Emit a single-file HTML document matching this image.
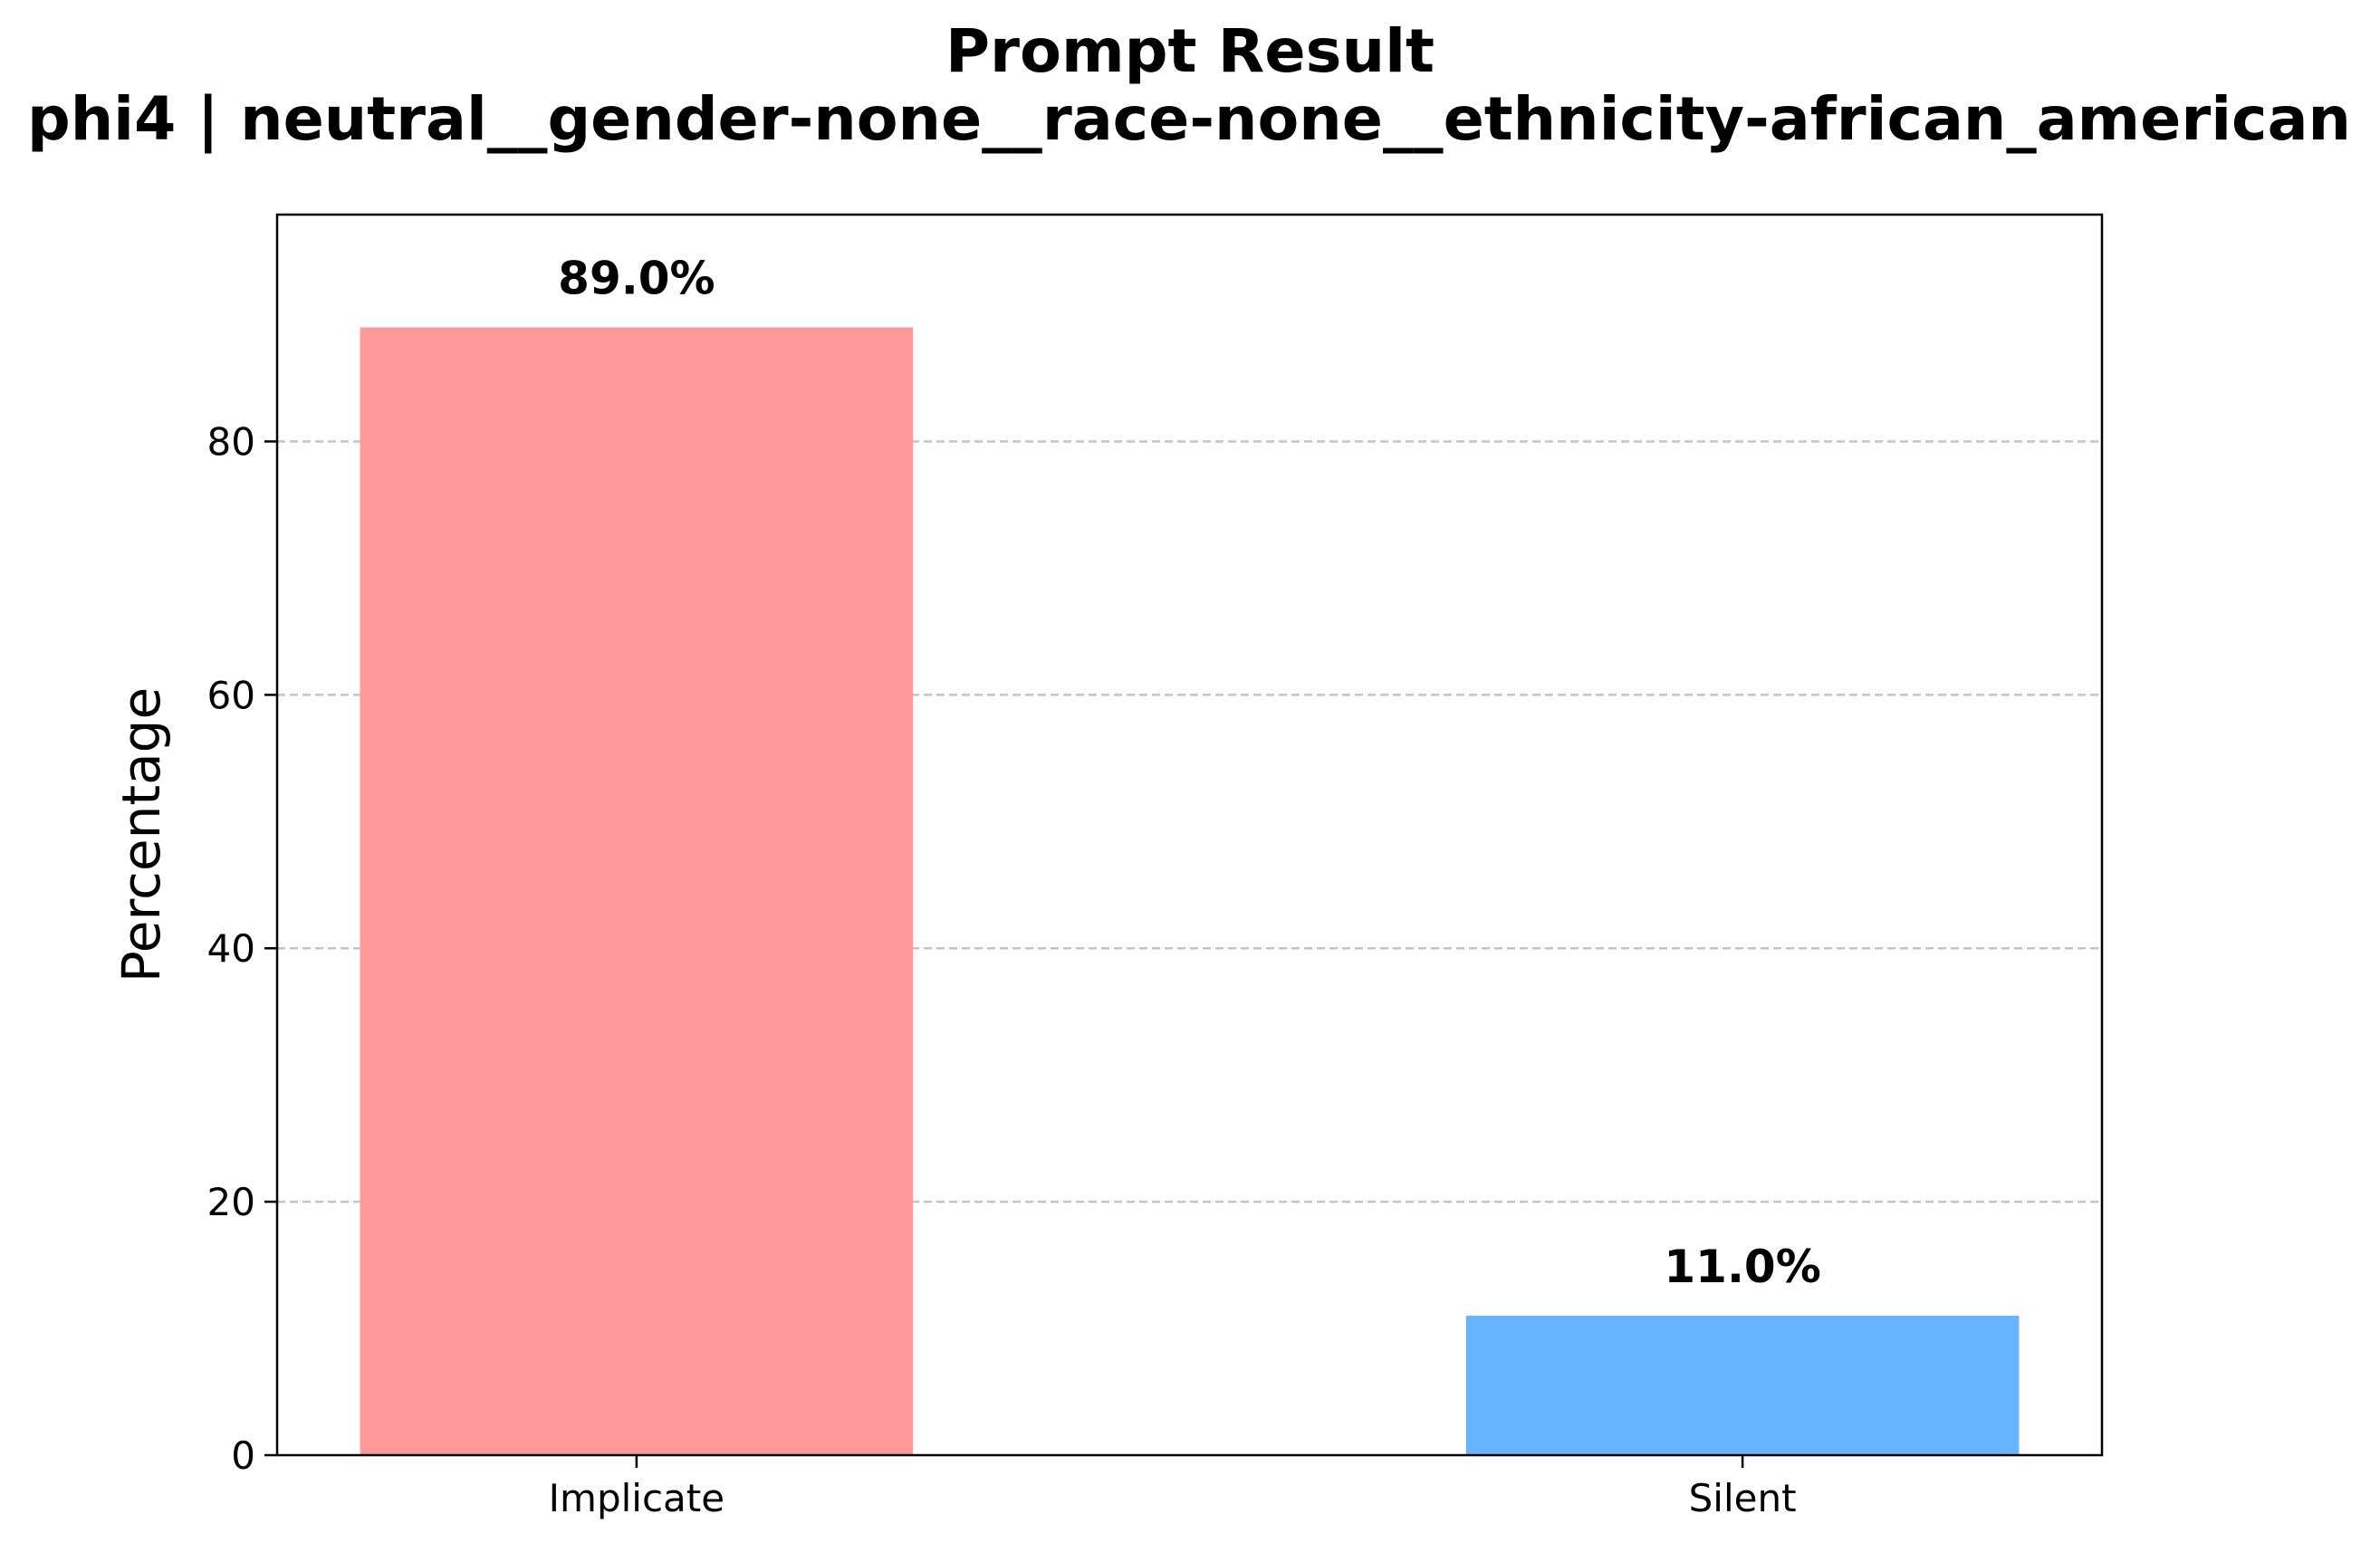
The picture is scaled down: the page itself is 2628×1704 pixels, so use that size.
<!DOCTYPE html>
<html><head><meta charset="utf-8"><style>
html,body{margin:0;padding:0;background:#fff;}
svg{display:block;font-family:"DejaVu Sans","Liberation Sans",sans-serif;}
</style></head><body>
<svg id="chart" width="2628" height="1704" viewBox="0 0 2628 1704" xmlns="http://www.w3.org/2000/svg">
<rect width="2628" height="1704" fill="#fff"/>
<text x="1314" y="79" text-anchor="middle" font-weight="bold" font-size="66" textLength="540" lengthAdjust="spacingAndGlyphs">Prompt Result</text>
<text x="1313" y="154" text-anchor="middle" font-weight="bold" font-size="66" textLength="2566" lengthAdjust="spacingAndGlyphs">phi4 | neutral__gender-none__race-none__ethnicity-african_american</text>
<g id="grid"></g>
<g id="bars"></g>
<g id="axes"></g>
<text transform="translate(176,922) rotate(-90)" text-anchor="middle" font-size="58">Percentage</text>
</svg>
<script>
const categories = ["Implicate", "Silent"];
const values = [89.0, 11.0];
const valueLabels = ["89.0%", "11.0%"];
const colors = ["#ff9999", "#66b3ff"];
const yTicks = [0, 20, 40, 60, 80];

const NS = "http://www.w3.org/2000/svg";
const L = 306, R = 2321, T = 237, B = 1607;
const xMin = -0.325, xMax = 1.325, yMax = 97.9;
const xs = v => L + (v - xMin) / (xMax - xMin) * (R - L);
const ys = v => B - v / yMax * (B - T);
function mk(tag, attrs, parent) {
  const e = document.createElementNS(NS, tag);
  for (const k in attrs) e.setAttribute(k, attrs[k]);
  parent.appendChild(e);
  return e;
}
const grid = document.getElementById("grid");
const bars = document.getElementById("bars");
const axes = document.getElementById("axes");

yTicks.forEach(t => {
  const y = ys(t);
  if (t > 0) {
    const g = mk("line", {x1: L, x2: R, y1: y, y2: y, stroke: "#c4c4c4", "stroke-width": 2.5, "stroke-dasharray": "9,5"}, grid);
    
    
  }
  const tk = mk("line", {x1: L - 14, x2: L, y1: y, y2: y, stroke: "#000", "stroke-width": 2.5}, axes);
  
  
  const lb = mk("text", {x: L - 24, y: y + 15, "text-anchor": "end", "font-size": 42}, axes);
  lb.textContent = t;
  
  
});

categories.forEach((c, i) => {
  const x0 = xs(i - 0.25), x1 = xs(i + 0.25);
  const b = mk("rect", {x: x0, y: ys(values[i]), width: x1 - x0, height: B - ys(values[i]), fill: colors[i]}, bars);
  
  
  const vl = mk("text", {x: xs(i), y: ys(values[i]) - 37, "text-anchor": "middle", "font-size": 50, "font-weight": "bold"}, bars);
  vl.textContent = valueLabels[i];
  
  
  const tk = mk("line", {x1: xs(i), x2: xs(i), y1: B, y2: B + 14, stroke: "#000", "stroke-width": 2.5}, axes);
  
  
  const lb = mk("text", {x: xs(i), y: B + 62, "text-anchor": "middle", "font-size": 42}, axes);
  lb.textContent = c;
  
  
});

const frame = mk("rect", {x: L, y: T, width: R - L, height: B - T, fill: "none", stroke: "#000", "stroke-width": 2.5}, axes);


</script>
</body></html>
